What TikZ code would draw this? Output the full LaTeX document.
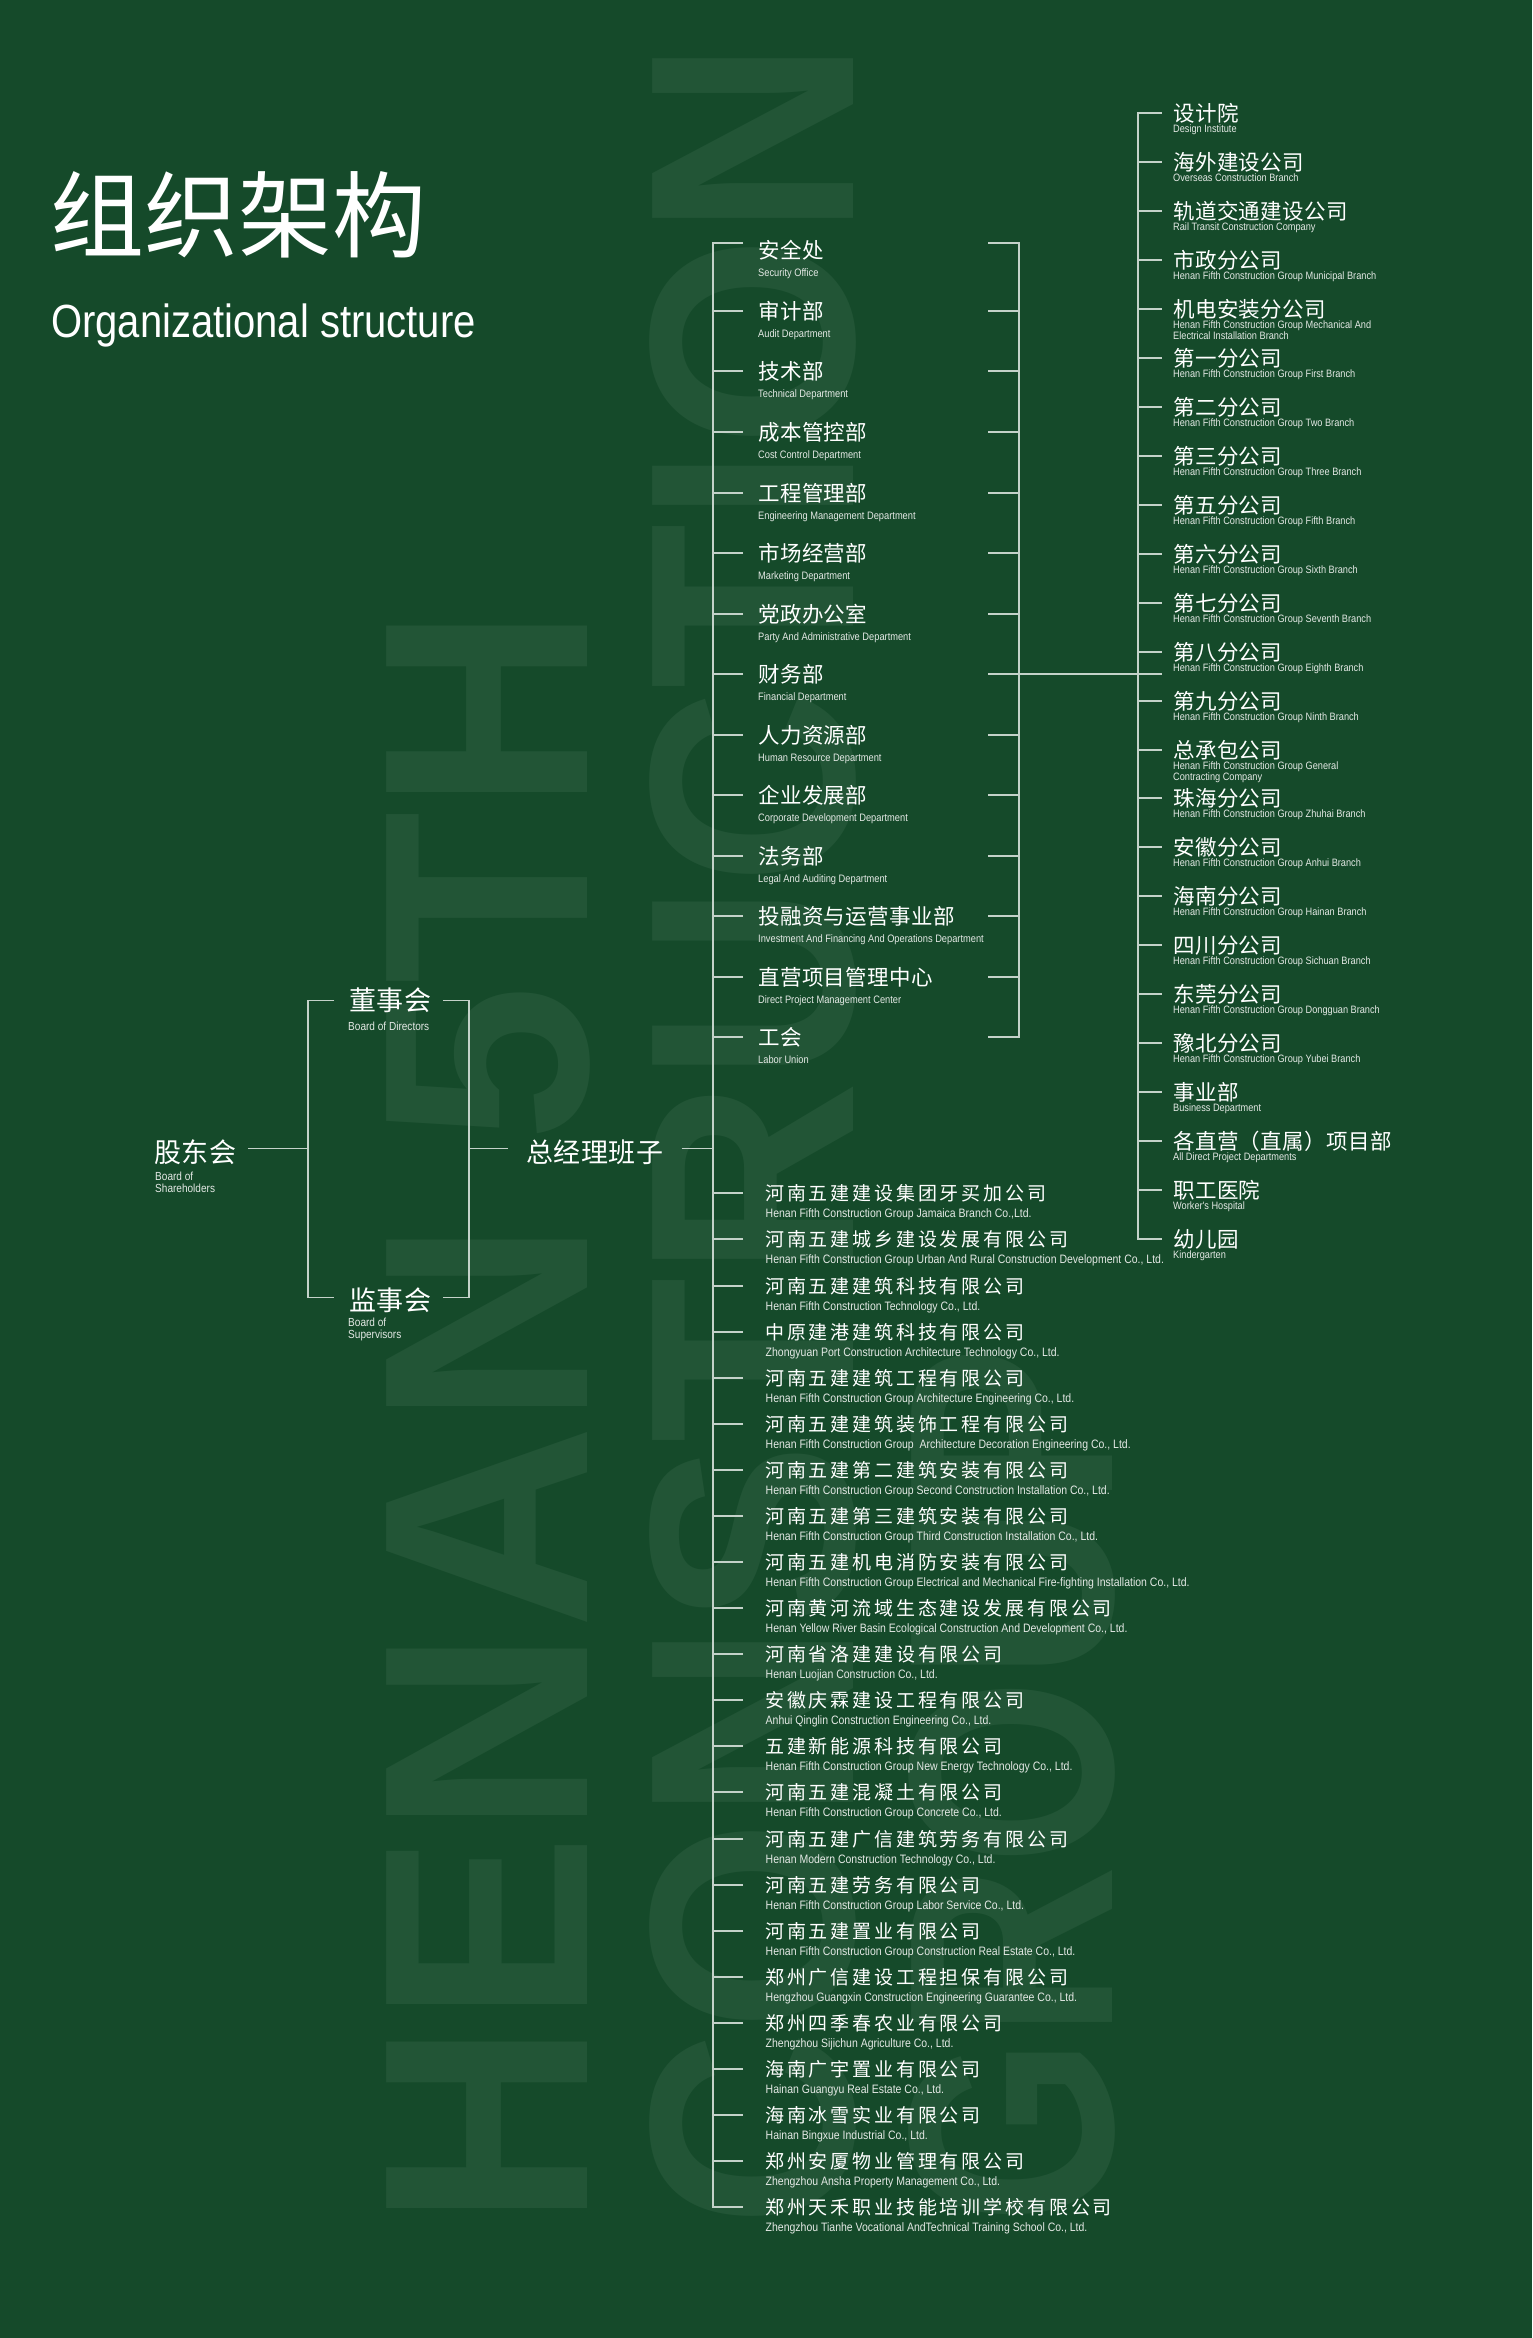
\documentclass[tikz,border=0pt]{standalone}
\usepackage{fontspec}
\setmainfont{Liberation Sans}
\newfontfamily\cnfont{Noto Sans CJK SC}
\newfontfamily\cnlabel[LetterSpace=2]{Noto Sans CJK SC}
\newfontfamily\cnwide[LetterSpace=15]{Noto Sans CJK SC}
\newfontfamily\ennarrow[FakeStretch=0.86]{Liberation Sans}
\newfontfamily\wmfonta[FakeStretch=0.97]{Liberation Sans}
\newfontfamily\wmfontb[FakeStretch=0.93]{Liberation Sans}
\newfontfamily\wmfontc[FakeStretch=0.82]{Liberation Sans}
\usepackage{tikz}
\usepackage{xcolor}
\definecolor{bggreen}{RGB}{21,74,42}
\definecolor{wmgreen}{RGB}{34,85,54}
\definecolor{linegray}{RGB}{196,210,201}
\definecolor{subgray}{RGB}{228,233,229}

\begin{document}
\begin{tikzpicture}[x=1pt,y=-1pt,
  link/.style={draw=linegray,line width=1.3pt},
  wm/.style={text=wmgreen,inner sep=0pt,rotate=90,anchor=base west},
  big/.style={text=white,inner sep=0pt,anchor=west,text height=26.6pt,text depth=0pt,font=\cnlabel\fontsize{27}{27}\selectfont},
  dept/.style={text=white,inner sep=0pt,anchor=west,text height=16.3pt,text depth=0pt,font=\cnlabel\fontsize{21.5}{21.5}\selectfont},
  comp/.style={text=white,inner sep=0pt,anchor=west,text height=14.4pt,text depth=0pt,font=\cnwide\fontsize{19}{19}\selectfont},
  bigsub/.style={text=subgray,inner sep=0pt,anchor=base west,font=\ennarrow\fontsize{11.7}{11.7}\selectfont},
  deptsub/.style={text=subgray,inner sep=0pt,anchor=base west,font=\ennarrow\fontsize{10.8}{10.8}\selectfont},
  brsub/.style={text=subgray,inner sep=0pt,anchor=base west,font=\ennarrow\fontsize{10.7}{10.7}\selectfont},
  compsub/.style={text=subgray,inner sep=0pt,anchor=base west,font=\ennarrow\fontsize{12.2}{12.2}\selectfont}]
\useasboundingbox (0,0) rectangle (1532,2338);
\fill[bggreen] (0,0) rectangle (1532,2338);

% watermark
\node[wm,font=\wmfonta\bfseries\fontsize{292}{292}\selectfont] (wm1) at (587,2228) {HENAN 5TH};
\node[wm,font=\wmfontb\bfseries\fontsize{292}{292}\selectfont] (wm2) at (853,2228) {CONSTRUCTION};
\node[wm,font=\wmfontc\bfseries\fontsize{292}{292}\selectfont] (wm3) at (1112,2225) {GROUP};

% title
\node[text=white,inner sep=0pt,anchor=base west,font=\cnfont\fontsize{94}{94}\selectfont] (title) at (50,250.7) {组织架构};
\node[text=white,inner sep=0pt,anchor=base west,font=\ennarrow\fontsize{46.5}{46.5}\selectfont] (subtitle) at (51,337) {Organizational structure};

% left tree
\node[big] (gd) at (154,1148.7) {股东会};
\node[bigsub] at (155,1180) {Board of};
\node[bigsub] at (155,1192.7) {Shareholders};
\node[big] (dsh) at (349,997) {董事会};
\node[bigsub] at (348,1030) {Board of Directors};
\node[big] (jsh) at (349,1297) {监事会};
\node[bigsub] at (348,1326) {Board of};
\node[bigsub] at (348,1338.3) {Supervisors};
\node[big] (zjl) at (526,1148.7) {总经理班子};
\coordinate (lbt) at (308,1000.7);
\coordinate (lbb) at (308,1297.3);
\coordinate (rbt) at (469,1000.7);
\coordinate (rbb) at (469,1297.3);
\draw[link] ([xshift=12pt]gd.east) -- (gd.east -| lbt);
\draw[link] ([xshift=-15pt]dsh.west |- lbt) -- (lbt) -- (lbb) -- ([xshift=-15pt]jsh.west |- lbb);
\draw[link] ([xshift=11.5pt]dsh.east |- rbt) -- (rbt) -- (rbb) -- ([xshift=11.5pt]jsh.east |- rbb);
\draw[link] (zjl.west -| rbt) -- ([xshift=-18pt]zjl.west);

% departments
\node[dept] (d1) at (758,250) {安全处};
\node[deptsub] at (758,276) {Security Office};
\node[dept] (d2) at (758,311) {审计部};
\node[deptsub] at (758,337) {Audit Department};
\node[dept] (d3) at (758,371) {技术部};
\node[deptsub] at (758,397) {Technical Department};
\node[dept] (d4) at (758,432) {成本管控部};
\node[deptsub] at (758,458) {Cost Control Department};
\node[dept] (d5) at (758,493) {工程管理部};
\node[deptsub] at (758,519) {Engineering Management Department};
\node[dept] (d6) at (758,553) {市场经营部};
\node[deptsub] at (758,579) {Marketing Department};
\node[dept] (d7) at (758,614) {党政办公室};
\node[deptsub] at (758,640) {Party And Administrative Department};
\node[dept] (d8) at (758,674) {财务部};
\node[deptsub] at (758,700) {Financial Department};
\node[dept] (d9) at (758,735) {人力资源部};
\node[deptsub] at (758,761) {Human Resource Department};
\node[dept] (d10) at (758,795) {企业发展部};
\node[deptsub] at (758,821) {Corporate Development Department};
\node[dept] (d11) at (758,856) {法务部};
\node[deptsub] at (758,882) {Legal And Auditing Department};
\node[dept] (d12) at (758,916) {投融资与运营事业部};
\node[deptsub] at (758,942) {Investment And Financing And Operations Department};
\node[dept] (d13) at (758,977) {直营项目管理中心};
\node[deptsub] at (758,1003) {Direct Project Management Center};
\node[dept] (d14) at (758,1037) {工会};
\node[deptsub] at (758,1063) {Labor Union};

% branches
\node[dept] (b1) at (1173,113) {设计院};
\node[brsub] at (1173,132) {Design Institute};
\node[dept] (b2) at (1173,162) {海外建设公司};
\node[brsub] at (1173,181) {Overseas Construction Branch};
\node[dept] (b3) at (1173,211) {轨道交通建设公司};
\node[brsub] at (1173,230) {Rail Transit Construction Company};
\node[dept] (b4) at (1173,260) {市政分公司};
\node[brsub] at (1173,279) {Henan Fifth Construction Group Municipal Branch};
\node[dept] (b5) at (1173,309) {机电安装分公司};
\node[brsub] at (1173,328) {Henan Fifth Construction Group Mechanical And};
\node[brsub] at (1173,339) {Electrical Installation Branch};
\node[dept] (b6) at (1173,358) {第一分公司};
\node[brsub] at (1173,377) {Henan Fifth Construction Group First Branch};
\node[dept] (b7) at (1173,407) {第二分公司};
\node[brsub] at (1173,426) {Henan Fifth Construction Group Two Branch};
\node[dept] (b8) at (1173,456) {第三分公司};
\node[brsub] at (1173,475) {Henan Fifth Construction Group Three Branch};
\node[dept] (b9) at (1173,505) {第五分公司};
\node[brsub] at (1173,524) {Henan Fifth Construction Group Fifth Branch};
\node[dept] (b10) at (1173,554) {第六分公司};
\node[brsub] at (1173,573) {Henan Fifth Construction Group Sixth Branch};
\node[dept] (b11) at (1173,603) {第七分公司};
\node[brsub] at (1173,622) {Henan Fifth Construction Group Seventh Branch};
\node[dept] (b12) at (1173,652) {第八分公司};
\node[brsub] at (1173,671) {Henan Fifth Construction Group Eighth Branch};
\node[dept] (b13) at (1173,701) {第九分公司};
\node[brsub] at (1173,720) {Henan Fifth Construction Group Ninth Branch};
\node[dept] (b14) at (1173,750) {总承包公司};
\node[brsub] at (1173,769) {Henan Fifth Construction Group General};
\node[brsub] at (1173,780) {Contracting Company};
\node[dept] (b15) at (1173,798) {珠海分公司};
\node[brsub] at (1173,817) {Henan Fifth Construction Group Zhuhai Branch};
\node[dept] (b16) at (1173,847) {安徽分公司};
\node[brsub] at (1173,866) {Henan Fifth Construction Group Anhui Branch};
\node[dept] (b17) at (1173,896) {海南分公司};
\node[brsub] at (1173,915) {Henan Fifth Construction Group Hainan Branch};
\node[dept] (b18) at (1173,945) {四川分公司};
\node[brsub] at (1173,964) {Henan Fifth Construction Group Sichuan Branch};
\node[dept] (b19) at (1173,994) {东莞分公司};
\node[brsub] at (1173,1013) {Henan Fifth Construction Group Dongguan Branch};
\node[dept] (b20) at (1173,1043) {豫北分公司};
\node[brsub] at (1173,1062) {Henan Fifth Construction Group Yubei Branch};
\node[dept] (b21) at (1173,1092) {事业部};
\node[brsub] at (1173,1111) {Business Department};
\node[dept] (b22) at (1173,1141) {各直营（直属）项目部};
\node[brsub] at (1173,1160) {All Direct Project Departments};
\node[dept] (b23) at (1173,1190) {职工医院};
\node[brsub] at (1173,1209) {Worker's Hospital};
\node[dept] (b24) at (1173,1239) {幼儿园};
\node[brsub] at (1173,1258) {Kindergarten};

% companies
\node[comp] (c1) at (765,1193) {河南五建建设集团牙买加公司};
\node[compsub] at (765.5,1217) {Henan Fifth Construction Group Jamaica Branch Co.,Ltd.};
\node[comp] (c2) at (765,1239) {河南五建城乡建设发展有限公司};
\node[compsub] at (765.5,1263) {Henan Fifth Construction Group Urban And Rural Construction Development Co., Ltd.};
\node[comp] (c3) at (765,1286) {河南五建建筑科技有限公司};
\node[compsub] at (765.5,1310) {Henan Fifth Construction Technology Co., Ltd.};
\node[comp] (c4) at (765,1332) {中原建港建筑科技有限公司};
\node[compsub] at (765.5,1356) {Zhongyuan Port Construction Architecture Technology Co., Ltd.};
\node[comp] (c5) at (765,1378) {河南五建建筑工程有限公司};
\node[compsub] at (765.5,1402) {Henan Fifth Construction Group Architecture Engineering Co., Ltd.};
\node[comp] (c6) at (765,1424) {河南五建建筑装饰工程有限公司};
\node[compsub] at (765.5,1448) {Henan Fifth Construction Group\ \ Architecture Decoration Engineering Co., Ltd.};
\node[comp] (c7) at (765,1470) {河南五建第二建筑安装有限公司};
\node[compsub] at (765.5,1494) {Henan Fifth Construction Group Second Construction Installation Co., Ltd.};
\node[comp] (c8) at (765,1516) {河南五建第三建筑安装有限公司};
\node[compsub] at (765.5,1540) {Henan Fifth Construction Group Third Construction Installation Co., Ltd.};
\node[comp] (c9) at (765,1562) {河南五建机电消防安装有限公司};
\node[compsub] at (765.5,1586) {Henan Fifth Construction Group Electrical and Mechanical Fire-fighting Installation Co., Ltd.};
\node[comp] (c10) at (765,1608) {河南黄河流域生态建设发展有限公司};
\node[compsub] at (765.5,1632) {Henan Yellow River Basin Ecological Construction And Development Co., Ltd.};
\node[comp] (c11) at (765,1654) {河南省洛建建设有限公司};
\node[compsub] at (765.5,1678) {Henan Luojian Construction Co., Ltd.};
\node[comp] (c12) at (765,1700) {安徽庆霖建设工程有限公司};
\node[compsub] at (765.5,1724) {Anhui Qinglin Construction Engineering Co., Ltd.};
\node[comp] (c13) at (765,1746) {五建新能源科技有限公司};
\node[compsub] at (765.5,1770) {Henan Fifth Construction Group New Energy Technology Co., Ltd.};
\node[comp] (c14) at (765,1792) {河南五建混凝土有限公司};
\node[compsub] at (765.5,1816) {Henan Fifth Construction Group Concrete Co., Ltd.};
\node[comp] (c15) at (765,1839) {河南五建广信建筑劳务有限公司};
\node[compsub] at (765.5,1863) {Henan Modern Construction Technology Co., Ltd.};
\node[comp] (c16) at (765,1885) {河南五建劳务有限公司};
\node[compsub] at (765.5,1909) {Henan Fifth Construction Group Labor Service Co., Ltd.};
\node[comp] (c17) at (765,1931) {河南五建置业有限公司};
\node[compsub] at (765.5,1955) {Henan Fifth Construction Group Construction Real Estate Co., Ltd.};
\node[comp] (c18) at (765,1977) {郑州广信建设工程担保有限公司};
\node[compsub] at (765.5,2001) {Hengzhou Guangxin Construction Engineering Guarantee Co., Ltd.};
\node[comp] (c19) at (765,2023) {郑州四季春农业有限公司};
\node[compsub] at (765.5,2047) {Zhengzhou Sijichun Agriculture Co., Ltd.};
\node[comp] (c20) at (765,2069) {海南广宇置业有限公司};
\node[compsub] at (765.5,2093) {Hainan Guangyu Real Estate Co., Ltd.};
\node[comp] (c21) at (765,2115) {海南冰雪实业有限公司};
\node[compsub] at (765.5,2139) {Hainan Bingxue Industrial Co., Ltd.};
\node[comp] (c22) at (765,2161) {郑州安厦物业管理有限公司};
\node[compsub] at (765.5,2185) {Zhengzhou Ansha Property Management Co., Ltd.};
\node[comp] (c23) at (765,2207) {郑州天禾职业技能培训学校有限公司};
\node[compsub] at (765.5,2231) {Zhengzhou Tianhe Vocational AndTechnical Training School Co., Ltd.};

% main trunk
\coordinate (trunktop) at (713,243);
\draw[link] ([xshift=18pt]zjl.east) -- (zjl.east -| trunktop);
\draw[link] ([xshift=-15pt]d1.west |- trunktop) -- (trunktop) -- (c23.west -| trunktop) -- ([xshift=-22pt]c23.west);
\draw[link] ([xshift=-15pt]d2.west) -- (d2.west -| trunktop);
\draw[link] ([xshift=-15pt]d3.west) -- (d3.west -| trunktop);
\draw[link] ([xshift=-15pt]d4.west) -- (d4.west -| trunktop);
\draw[link] ([xshift=-15pt]d5.west) -- (d5.west -| trunktop);
\draw[link] ([xshift=-15pt]d6.west) -- (d6.west -| trunktop);
\draw[link] ([xshift=-15pt]d7.west) -- (d7.west -| trunktop);
\draw[link] ([xshift=-15pt]d8.west) -- (d8.west -| trunktop);
\draw[link] ([xshift=-15pt]d9.west) -- (d9.west -| trunktop);
\draw[link] ([xshift=-15pt]d10.west) -- (d10.west -| trunktop);
\draw[link] ([xshift=-15pt]d11.west) -- (d11.west -| trunktop);
\draw[link] ([xshift=-15pt]d12.west) -- (d12.west -| trunktop);
\draw[link] ([xshift=-15pt]d13.west) -- (d13.west -| trunktop);
\draw[link] ([xshift=-15pt]d14.west) -- (d14.west -| trunktop);
\draw[link] ([xshift=-22pt]c1.west) -- (c1.west -| trunktop);
\draw[link] ([xshift=-22pt]c2.west) -- (c2.west -| trunktop);
\draw[link] ([xshift=-22pt]c3.west) -- (c3.west -| trunktop);
\draw[link] ([xshift=-22pt]c4.west) -- (c4.west -| trunktop);
\draw[link] ([xshift=-22pt]c5.west) -- (c5.west -| trunktop);
\draw[link] ([xshift=-22pt]c6.west) -- (c6.west -| trunktop);
\draw[link] ([xshift=-22pt]c7.west) -- (c7.west -| trunktop);
\draw[link] ([xshift=-22pt]c8.west) -- (c8.west -| trunktop);
\draw[link] ([xshift=-22pt]c9.west) -- (c9.west -| trunktop);
\draw[link] ([xshift=-22pt]c10.west) -- (c10.west -| trunktop);
\draw[link] ([xshift=-22pt]c11.west) -- (c11.west -| trunktop);
\draw[link] ([xshift=-22pt]c12.west) -- (c12.west -| trunktop);
\draw[link] ([xshift=-22pt]c13.west) -- (c13.west -| trunktop);
\draw[link] ([xshift=-22pt]c14.west) -- (c14.west -| trunktop);
\draw[link] ([xshift=-22pt]c15.west) -- (c15.west -| trunktop);
\draw[link] ([xshift=-22pt]c16.west) -- (c16.west -| trunktop);
\draw[link] ([xshift=-22pt]c17.west) -- (c17.west -| trunktop);
\draw[link] ([xshift=-22pt]c18.west) -- (c18.west -| trunktop);
\draw[link] ([xshift=-22pt]c19.west) -- (c19.west -| trunktop);
\draw[link] ([xshift=-22pt]c20.west) -- (c20.west -| trunktop);
\draw[link] ([xshift=-22pt]c21.west) -- (c21.west -| trunktop);
\draw[link] ([xshift=-22pt]c22.west) -- (c22.west -| trunktop);

% right bracket of departments
\coordinate (rstub) at (988,243);
\coordinate (brtop) at (1019,243);
\draw[link] (rstub) -- (brtop) -- (d14.west -| brtop) -- (d14.west -| rstub);
\draw[link] (d2.west -| rstub) -- (d2.west -| brtop);
\draw[link] (d3.west -| rstub) -- (d3.west -| brtop);
\draw[link] (d4.west -| rstub) -- (d4.west -| brtop);
\draw[link] (d5.west -| rstub) -- (d5.west -| brtop);
\draw[link] (d6.west -| rstub) -- (d6.west -| brtop);
\draw[link] (d7.west -| rstub) -- (d7.west -| brtop);
\draw[link] (d8.west -| rstub) -- (d8.west -| brtop);
\draw[link] (d9.west -| rstub) -- (d9.west -| brtop);
\draw[link] (d10.west -| rstub) -- (d10.west -| brtop);
\draw[link] (d11.west -| rstub) -- (d11.west -| brtop);
\draw[link] (d12.west -| rstub) -- (d12.west -| brtop);
\draw[link] (d13.west -| rstub) -- (d13.west -| brtop);

% branch trunk
\coordinate (bline) at (1138,113);
\draw[link] (d8.west -| brtop) -- ([xshift=-11.5pt]b1.west |- d8.west);
\draw[link] ([xshift=-11.5pt]b1.west) -- (b1.west -| bline) -- (b24.west -| bline) -- ([xshift=-11.5pt]b24.west);
\draw[link] ([xshift=-11.5pt]b2.west) -- (b2.west -| bline);
\draw[link] ([xshift=-11.5pt]b3.west) -- (b3.west -| bline);
\draw[link] ([xshift=-11.5pt]b4.west) -- (b4.west -| bline);
\draw[link] ([xshift=-11.5pt]b5.west) -- (b5.west -| bline);
\draw[link] ([xshift=-11.5pt]b6.west) -- (b6.west -| bline);
\draw[link] ([xshift=-11.5pt]b7.west) -- (b7.west -| bline);
\draw[link] ([xshift=-11.5pt]b8.west) -- (b8.west -| bline);
\draw[link] ([xshift=-11.5pt]b9.west) -- (b9.west -| bline);
\draw[link] ([xshift=-11.5pt]b10.west) -- (b10.west -| bline);
\draw[link] ([xshift=-11.5pt]b11.west) -- (b11.west -| bline);
\draw[link] ([xshift=-11.5pt]b12.west) -- (b12.west -| bline);
\draw[link] ([xshift=-11.5pt]b13.west) -- (b13.west -| bline);
\draw[link] ([xshift=-11.5pt]b14.west) -- (b14.west -| bline);
\draw[link] ([xshift=-11.5pt]b15.west) -- (b15.west -| bline);
\draw[link] ([xshift=-11.5pt]b16.west) -- (b16.west -| bline);
\draw[link] ([xshift=-11.5pt]b17.west) -- (b17.west -| bline);
\draw[link] ([xshift=-11.5pt]b18.west) -- (b18.west -| bline);
\draw[link] ([xshift=-11.5pt]b19.west) -- (b19.west -| bline);
\draw[link] ([xshift=-11.5pt]b20.west) -- (b20.west -| bline);
\draw[link] ([xshift=-11.5pt]b21.west) -- (b21.west -| bline);
\draw[link] ([xshift=-11.5pt]b22.west) -- (b22.west -| bline);
\draw[link] ([xshift=-11.5pt]b23.west) -- (b23.west -| bline);

\end{tikzpicture}
\end{document}
